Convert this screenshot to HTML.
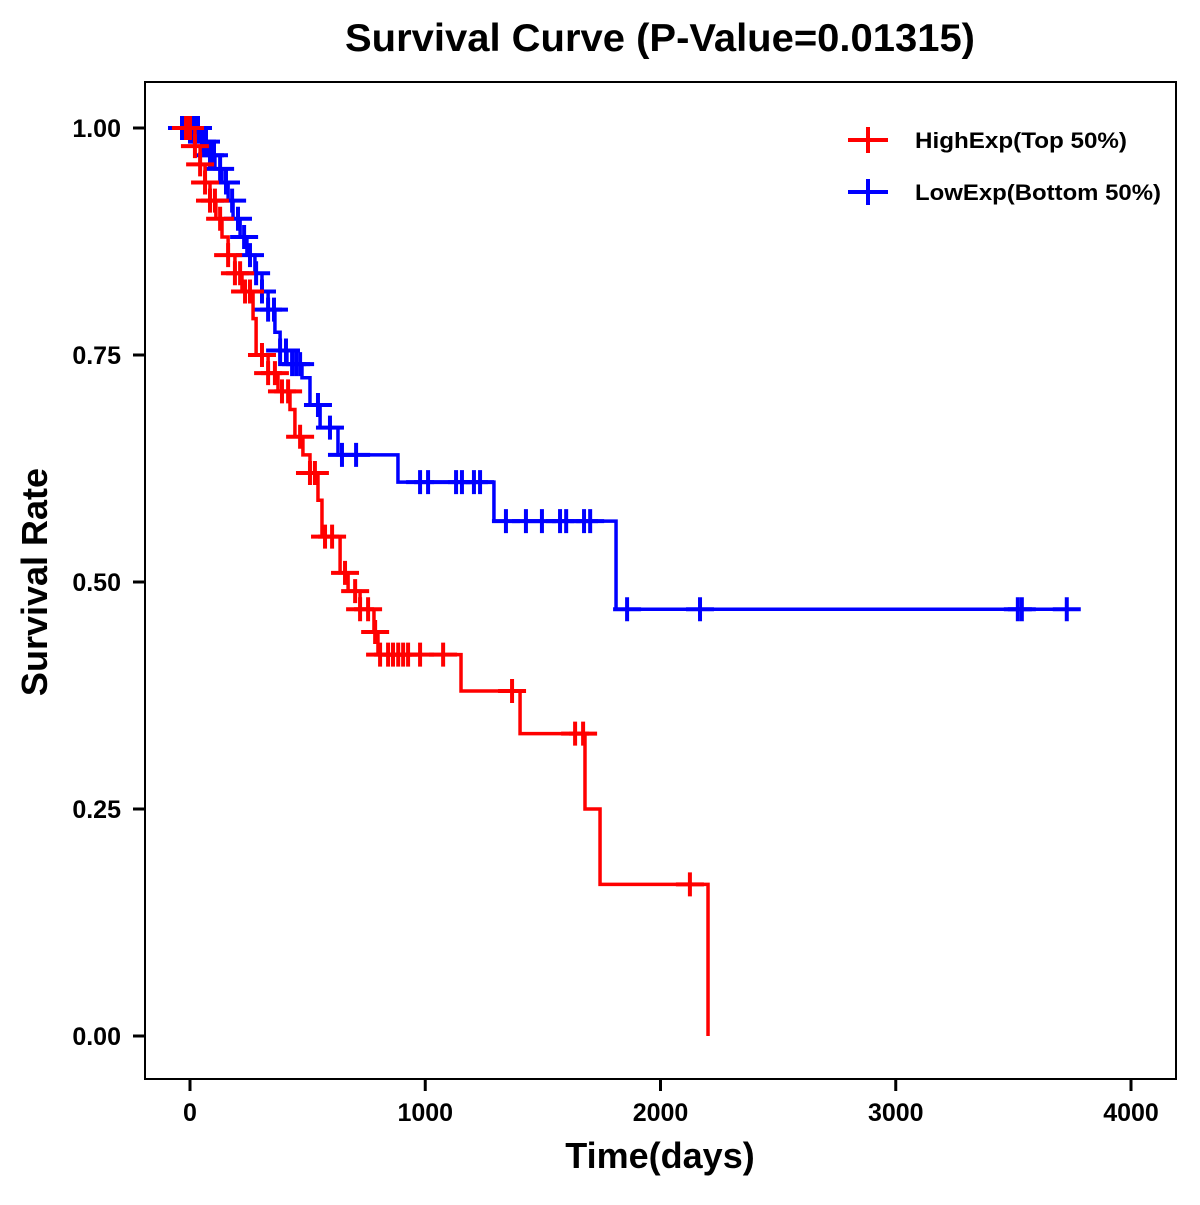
<!DOCTYPE html>
<html><head><meta charset="utf-8"><style>
html,body{margin:0;padding:0;background:#fff;}
svg text{font-family:"Liberation Sans",Arial,sans-serif;font-weight:bold;}
</style></head><body>
<svg id="chart" width="1200" height="1200" viewBox="0 0 1200 1200" xmlns="http://www.w3.org/2000/svg">
<rect width="1200" height="1200" fill="#fff"/>
<text x="660" y="51" font-size="39" text-anchor="middle" textLength="630" lengthAdjust="spacingAndGlyphs">Survival Curve (P-Value=0.01315)</text>
<rect x="145" y="82" width="1031" height="997" fill="none" stroke="#000" stroke-width="2"/>
<g id="axes"></g>
<g id="series"></g>
<text x="660" y="1168" font-size="36" text-anchor="middle">Time(days)</text>
<text transform="translate(47,582) rotate(-90)" font-size="36" text-anchor="middle">Survival Rate</text>
<g>
<g>
<line x1="848" y1="140" x2="888" y2="140" stroke="#f00" stroke-width="4"/><line x1="868" y1="127" x2="868" y2="153" stroke="#f00" stroke-width="4"/>
<text x="915" y="148" font-size="22" textLength="212" lengthAdjust="spacingAndGlyphs">HighExp(Top 50%)</text></g>
<g>
<line x1="848" y1="192" x2="888" y2="192" stroke="#00f" stroke-width="4"/><line x1="868" y1="179" x2="868" y2="205" stroke="#00f" stroke-width="4"/>
<text x="915" y="200" font-size="22" textLength="246" lengthAdjust="spacingAndGlyphs">LowExp(Bottom 50%)</text></g>
</g>
</svg>
<script>
var xTicks=[0,1000,2000,3000,4000];
var yTicks=[0,0.25,0.5,0.75,1.0];
var yTickLabels=["0.00","0.25","0.50","0.75","1.00"];
var highTimes=[0,21,43,64,85,110,136,162,191,221,268,281,332,374,425,446,480,510,544,561,638,672,723,782,799,1152,1403,1679,1743,2202];
var highSurv=[1.0,0.98,0.96,0.94,0.92,0.90,0.88,0.86,0.84,0.82,0.79,0.75,0.73,0.71,0.69,0.66,0.64,0.62,0.59,0.55,0.51,0.49,0.47,0.445,0.42,0.38,0.333,0.25,0.167,0.0];
var highEnd=2202;
var highCensor=[-17,0,21,43,64,85,106,128,162,191,213,234,255,306,332,361,391,417,468,510,531,574,604,659,702,723,757,787,808,842,863,885,906,927,978,1076,1369,1637,1671,2125];
var lowTimes=[0,43,85,106,136,162,183,213,242,276,306,332,361,383,412,476,510,553,629,884,1292,1811];
var lowSurv=[1.0,0.985,0.97,0.955,0.94,0.92,0.90,0.88,0.86,0.84,0.82,0.80,0.775,0.755,0.74,0.725,0.695,0.67,0.64,0.61,0.567,0.47];
var lowEnd=3740;
var lowCensor=[-34,-17,0,17,34,51,68,85,102,128,153,179,204,230,255,281,306,332,357,383,408,434,451,468,544,595,646,706,978,1012,1131,1156,1207,1233,1343,1428,1496,1573,1599,1675,1701,1858,2168,3519,3536,3727];
function sx(t){return 190+t*0.23525;}
function sy(s){return 1036-s*908;}
var NS="http://www.w3.org/2000/svg";
function mk(tag,attrs,parent){var e=document.createElementNS(NS,tag);for(var k in attrs)e.setAttribute(k,attrs[k]);parent.appendChild(e);return e;}
var axes=document.getElementById('axes');
xTicks.forEach(function(t){
  var l=mk('line',{x1:sx(t),x2:sx(t),y1:1080,y2:1091,stroke:'#000','stroke-width':3},axes);
  
  
  var tx=mk('text',{x:sx(t),y:1121,'font-size':25,'text-anchor':'middle'},axes);
  tx.textContent=String(t);
  
  
});
yTicks.forEach(function(v,i){
  var l=mk('line',{x1:133,x2:144,y1:sy(v),y2:sy(v),stroke:'#000','stroke-width':3},axes);
  
  
  var tx=mk('text',{x:121,y:sy(v)+9,'font-size':25,'text-anchor':'end'},axes);
  tx.textContent=yTickLabels[i];
  
  
});
function level(times,surv,t){var s=surv[0];for(var i=0;i<times.length;i++){if(times[i]<=t)s=surv[i];}return s;}
function drawSeries(times,surv,end,censor,color,name){
  var g=mk('g',{},document.getElementById('series'));
  
  
  var d='M'+sx(times[0])+','+sy(surv[0]);
  for(var i=1;i<times.length;i++){d+=' H'+sx(times[i])+' V'+sy(surv[i]);}
  d+=' H'+sx(end);
  var p=mk('path',{d:d,fill:'none',stroke:color,'stroke-width':3.5},g);
  
  
  censor.forEach(function(t){
    var x=sx(t),y=sy(level(times,surv,t));
    var c=mk('path',{d:'M'+(x-14)+','+y+' H'+(x+14)+' M'+x+','+(y-12)+' V'+(y+12),stroke:color,'stroke-width':4,fill:'none'},g);
    
    
  });
}
drawSeries(lowTimes,lowSurv,lowEnd,lowCensor,'#0000ff','low-exp');
drawSeries(highTimes,highSurv,highEnd,highCensor,'#ff0000','high-exp');
</script>
</body></html>
